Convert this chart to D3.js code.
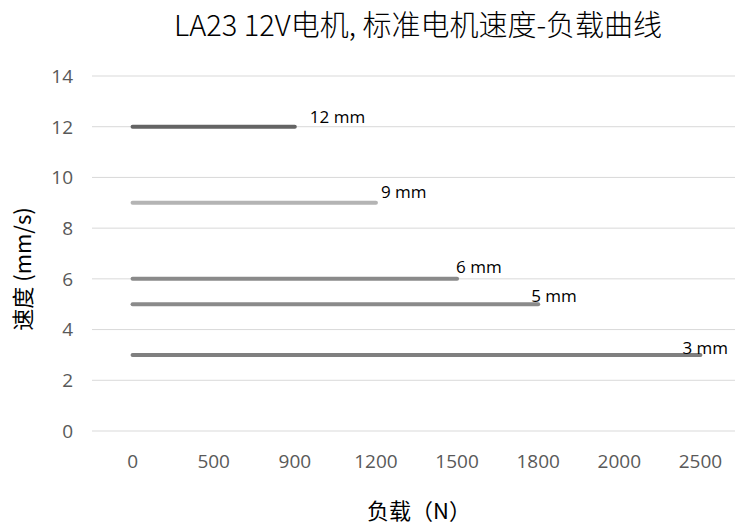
<!DOCTYPE html>
<html>
<head>
<meta charset="utf-8">
<script src="https://cdn.jsdelivr.net/npm/d3@7"></script>
<style>
  body { margin: 0; background: #fff; }
  text { font-family: "Noto Sans CJK SC", "Open Sans", sans-serif; }
</style>
</head>
<body>
<script>
// categories on the x axis (load, N)
const loads = ["0", "500", "900", "1200", "1500", "1800", "2000", "2500"];
// lead screw series: label, speed (mm/s), last load category
const seriesNames = ["12 mm", "9 mm", "6 mm", "5 mm", "3 mm"];
const speeds = [12, 9, 6, 5, 3];
const maxLoads = ["900", "1200", "1500", "1800", "2500"];
const colors = ["#646464", "#b4b4b4", "#8a8a8a", "#8a8a8a", "#7f7f7f"];
const yTicks = [0, 2, 4, 6, 8, 10, 12, 14];

const width = 735, height = 527;
const margin = { left: 92, right: -6, top: 76, bottom: 96 };

const svg = d3.select("body").append("svg")
    .attr("width", width)
    .attr("height", height);

const x = d3.scaleBand()
    .domain(loads)
    .range([margin.left, width - margin.right]);

const y = d3.scaleLinear()
    .domain([0, 14])
    .range([height - margin.bottom, margin.top]);

// gridlines
svg.append("g")
    .selectAll("line")
    .data(yTicks)
    .enter().append("line")
    .attr("x1", margin.left)
    .attr("x2", width)
    .attr("y1", d => y(d))
    .attr("y2", d => y(d))
    .attr("stroke", "#d9d9d9")
    .attr("stroke-width", 1);

// y tick labels
svg.append("g")
    .selectAll("text")
    .data(yTicks)
    .enter().append("text")
    .attr("x", 73)
    .attr("y", d => y(d))
    .attr("dy", "0.36em")
    .attr("text-anchor", "end")
    .attr("fill", "#595959")
    .style("font-family", "'Open Sans', sans-serif")
    .style("font-size", "19px")
    .text(d => d);

// x tick labels
svg.append("g")
    .selectAll("text")
    .data(loads)
    .enter().append("text")
    .attr("x", d => x(d) + x.bandwidth() / 2)
    .attr("y", 468)
    .attr("text-anchor", "middle")
    .attr("fill", "#595959")
    .style("font-family", "'Open Sans', sans-serif")
    .style("font-size", "19px")
    .text(d => d);

// series lines
const cx = d => x(d) + x.bandwidth() / 2;
const series = seriesNames.map((name, i) => ({
    name: name,
    color: colors[i],
    points: loads.slice(0, loads.indexOf(maxLoads[i]) + 1).map(l => ({ load: l, speed: speeds[i] }))
}));

const line = d3.line()
    .x(d => cx(d.load))
    .y(d => y(d.speed));

svg.append("g")
    .selectAll("path")
    .data(series)
    .enter().append("path")
    .attr("d", d => line(d.points))
    .attr("fill", "none")
    .attr("stroke", d => d.color)
    .attr("stroke-width", 4)
    .attr("stroke-linecap", "round");

// data labels at line ends
const labelOffsets = [[15, -4], [5, -5], [-1, -6], [-7, -2], [-18, -1]];
svg.append("g")
    .selectAll("text")
    .data(series)
    .enter().append("text")
    .attr("x", (d, i) => cx(d.points[d.points.length - 1].load) + labelOffsets[i][0])
    .attr("y", (d, i) => y(d.points[0].speed) + labelOffsets[i][1])
    .attr("fill", "#000")
    .style("font-family", "'Open Sans', sans-serif")
    .style("font-size", "17px")
    .text(d => d.name);

// title
svg.append("text")
    .attr("x", 418)
    .attr("y", 36)
    .attr("text-anchor", "middle")
    .attr("fill", "#000")
    .style("font-size", "29px")
    .style("font-weight", "300")
    .text("LA23 12V电机, 标准电机速度-负载曲线");

// axis titles
svg.append("text")
    .attr("x", 419)
    .attr("y", 519)
    .attr("text-anchor", "middle")
    .attr("fill", "#000")
    .style("font-size", "22px")
    .text("负载（N）");

svg.append("text")
    .attr("transform", "translate(31,269) rotate(-90)")
    .attr("text-anchor", "middle")
    .attr("fill", "#000")
    .style("font-size", "22px")
    .text("速度 (mm/s)");
</script>
</body>
</html>
